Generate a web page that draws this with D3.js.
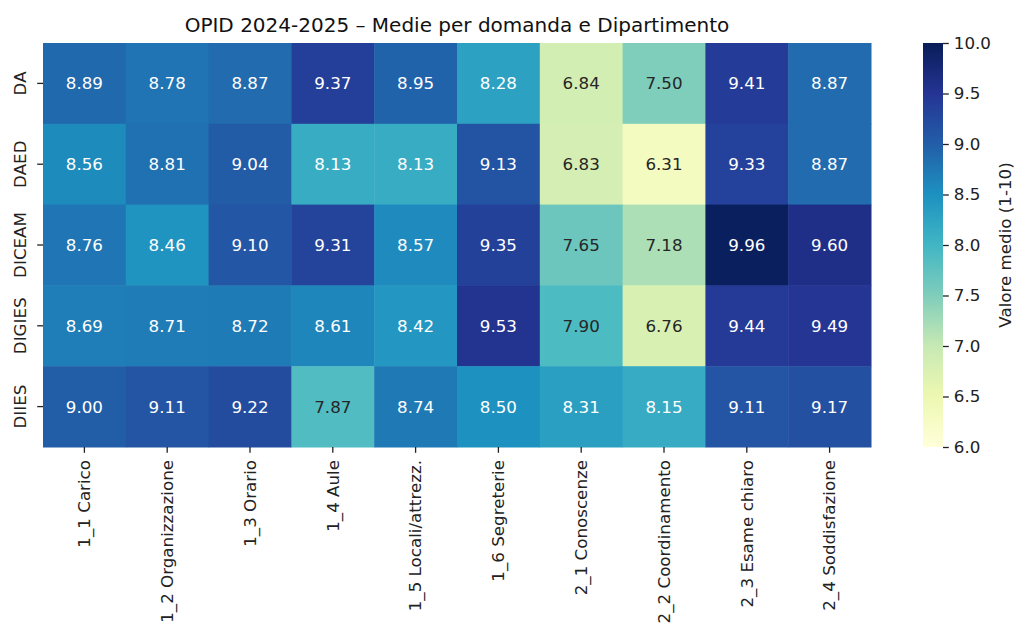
<!DOCTYPE html>
<html>
<head>
<meta charset="utf-8">
<script src="https://cdn.jsdelivr.net/npm/d3@7"></script>
<style>
  body { margin: 0; background: #fff; }
  text { font-family: "DejaVu Sans", sans-serif; }
</style>
</head>
<body>
<svg id="chart" width="1018" height="625"></svg>
<script>
// MARK: Data
const questions   = ['1_1 Carico', '1_2 Organizzazione', '1_3 Orario', '1_4 Aule', '1_5 Locali/attrezz.',
                     '1_6 Segreterie', '2_1 Conoscenze', '2_2 Coordinamento', '2_3 Esame chiaro', '2_4 Soddisfazione']
const departments = ['DA', 'DAED', 'DICEAM', 'DIGIES', 'DIIES']
const valuesDA     = [8.89, 8.78, 8.87, 9.37, 8.95, 8.28, 6.84, 7.50, 9.41, 8.87]
const valuesDAED   = [8.56, 8.81, 9.04, 8.13, 8.13, 9.13, 6.83, 6.31, 9.33, 8.87]
const valuesDICEAM = [8.76, 8.46, 9.10, 9.31, 8.57, 9.35, 7.65, 7.18, 9.96, 9.60]
const valuesDIGIES = [8.69, 8.71, 8.72, 8.61, 8.42, 9.53, 7.90, 6.76, 9.44, 9.49]
const valuesDIIES  = [9.00, 9.11, 9.22, 7.87, 8.74, 8.50, 8.31, 8.15, 9.11, 9.17]
const colorTicks   = [6.0, 6.5, 7.0, 7.5, 8.0, 8.5, 9.0, 9.5, 10.0]

const rows = [valuesDA, valuesDAED, valuesDICEAM, valuesDIGIES, valuesDIIES]

// MARK: Layout
const LEFT = 43, TOP = 43, RIGHT = 871, BOTTOM = 447
const CB_X = 923, CB_W = 20
const FONT = 16.7, TICK = 5.8

const svg = d3.select('#chart')

const x = d3.scaleBand().domain(questions).range([LEFT, RIGHT])
const y = d3.scaleBand().domain(departments).range([TOP, BOTTOM])

// YlGnBu, piecewise linear like matplotlib
const ylgnbu = ['#ffffd9', '#edf8b1', '#c7e9b4', '#7fcdbb', '#41b6c4', '#1d91c0', '#225ea8', '#253494', '#081d58']
const vmin = 6, vmax = 10
const color = d3.scaleLinear()
  .domain(ylgnbu.map((_, i) => vmin + (vmax - vmin) * i / (ylgnbu.length - 1)))
  .range(ylgnbu)
  .clamp(true)

function luminance(c) {
  const rgb = d3.rgb(c)
  const lin = [rgb.r, rgb.g, rgb.b].map((v) => {
    v /= 255
    return v <= 0.03928 ? v / 12.92 : Math.pow((v + 0.055) / 1.055, 2.4)
  })
  return 0.2126 * lin[0] + 0.7152 * lin[1] + 0.0722 * lin[2]
}

const cells = []
rows.forEach((vals, r) => vals.forEach((v, c) => cells.push({ dept: departments[r], q: questions[c], v })))

// Cells
svg.append('g').selectAll('rect')
  .data(cells).enter().append('rect')
  .attr('x', (d) => x(d.q))
  .attr('y', (d) => y(d.dept))
  .attr('width', x.bandwidth() + 0.5)
  .attr('height', y.bandwidth() + 0.5)
  .attr('fill', (d) => color(d.v))

// Annotations
svg.append('g').selectAll('text')
  .data(cells).enter().append('text')
  .attr('x', (d) => x(d.q) + x.bandwidth() / 2)
  .attr('y', (d) => y(d.dept) + y.bandwidth() / 2)
  .attr('text-anchor', 'middle')
  .attr('dominant-baseline', 'central')
  .attr('font-size', FONT)
  .attr('fill', (d) => luminance(color(d.v)) > 0.408 ? '#262626' : '#ffffff')
  .text((d) => d.v.toFixed(2))

// X axis
const xAxis = svg.append('g')
  .attr('transform', `translate(0,${BOTTOM})`)
  .call(d3.axisBottom(x).tickSize(TICK).tickSizeOuter(0))
xAxis.select('.domain').remove()
xAxis.selectAll('line').attr('stroke', '#222').attr('stroke-width', 1.3)
xAxis.selectAll('text')
  .attr('font-size', FONT)
  .attr('fill', '#222')
  .attr('transform', 'rotate(-90)')
  .attr('text-anchor', 'end')
  .attr('x', -13)
  .attr('y', 0)
  .attr('dy', '0.35em')

// Y axis
const yAxis = svg.append('g')
  .attr('transform', `translate(${LEFT},0)`)
  .call(d3.axisLeft(y).tickSize(TICK).tickSizeOuter(0))
yAxis.select('.domain').remove()
yAxis.selectAll('line').attr('stroke', '#222').attr('stroke-width', 1.3)
yAxis.selectAll('text')
  .attr('font-size', FONT)
  .attr('fill', '#222')
  .attr('transform', 'rotate(-90)')
  .attr('text-anchor', 'middle')
  .attr('x', 0)
  .attr('y', -17)
  .attr('dy', 0)

// Title
svg.append('text')
  .attr('x', (LEFT + RIGHT) / 2)
  .attr('y', 31.5)
  .attr('text-anchor', 'middle')
  .attr('font-size', 20)
  .attr('fill', '#111')
  .text('OPID 2024-2025 – Medie per domanda e Dipartimento')

// Colorbar
const cbScale = d3.scaleLinear().domain([vmin, vmax]).range([BOTTOM, TOP])
const defs = svg.append('defs')
const grad = defs.append('linearGradient')
  .attr('id', 'cbgrad')
  .attr('x1', 0).attr('y1', 1).attr('x2', 0).attr('y2', 0)
grad.selectAll('stop')
  .data(ylgnbu).enter().append('stop')
  .attr('offset', (_, i) => i / (ylgnbu.length - 1))
  .attr('stop-color', (d) => d)
svg.append('rect')
  .attr('x', CB_X).attr('y', TOP)
  .attr('width', CB_W).attr('height', BOTTOM - TOP)
  .attr('fill', 'url(#cbgrad)')

const cbAxis = svg.append('g')
  .attr('transform', `translate(${CB_X + CB_W},0)`)
  .call(d3.axisRight(cbScale).tickValues(colorTicks).tickFormat(d3.format('.1f')).tickSize(TICK).tickPadding(5))
cbAxis.select('.domain').remove()
cbAxis.selectAll('line').attr('stroke', '#222').attr('stroke-width', 1.3)
cbAxis.selectAll('text').attr('font-size', FONT).attr('fill', '#222')

svg.append('text')
  .attr('transform', `translate(1011,${(TOP + BOTTOM) / 2}) rotate(-90)`)
  .attr('text-anchor', 'middle')
  .attr('font-size', FONT)
  .attr('fill', '#222')
  .text('Valore medio (1-10)')
</script>
</body>
</html>
